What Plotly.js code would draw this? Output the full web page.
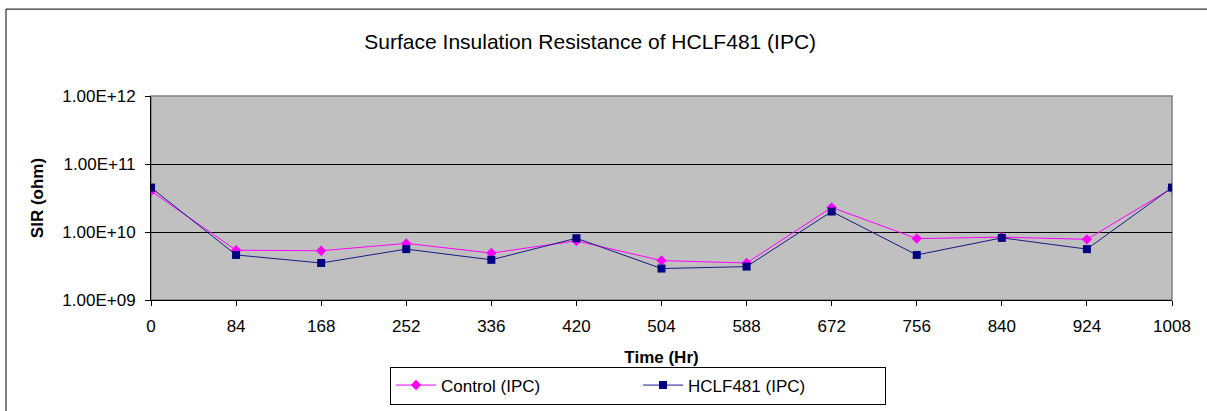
<!DOCTYPE html>
<html>
<head>
<meta charset="utf-8">
<script src="https://cdn.plot.ly/plotly-3.0.1.min.js"></script>
<style>
html,body{margin:0;padding:0;background:#fff;}
#chart{width:1207px;height:411px;}
</style>
</head>
<body>
<div id="chart"></div>
<script>
const timeHr = [0, 84, 168, 252, 336, 420, 504, 588, 672, 756, 840, 924, 1008];
const controlSIR = [4.0e10, 5.4e9, 5.3e9, 6.8e9, 4.9e9, 7.4e9, 3.8e9, 3.5e9, 2.3e10, 8.0e9, 8.4e9, 7.8e9, 4.4e10];
const hclfSIR = [4.5e10, 4.6e9, 3.5e9, 5.6e9, 3.9e9, 8.1e9, 2.9e9, 3.1e9, 2.0e10, 4.6e9, 8.2e9, 5.6e9, 4.5e10];
const yTickVals = [1e9, 1e10, 1e11, 1e12];
const yTickText = ['1.00E+09', '1.00E+10', '1.00E+11', '1.00E+12'];
const xTickVals = [0, 84, 168, 252, 336, 420, 504, 588, 672, 756, 840, 924, 1008];

const font = 'Arial, "Liberation Sans", sans-serif';

const traces = [
  {
    x: timeHr, y: controlSIR, name: 'Control (IPC)', type: 'scatter', mode: 'lines+markers',
    line: {color: '#ff00ff', width: 1},
    marker: {symbol: 'diamond', size: 8, color: '#ff00ff'}
  },
  {
    x: timeHr, y: hclfSIR, name: 'HCLF481 (IPC)', type: 'scatter', mode: 'lines+markers',
    line: {color: '#1a1a88', width: 1},
    marker: {symbol: 'square', size: 8, color: '#000080'}
  }
];

const layout = {
  width: 1207, height: 411,
  margin: {l: 151, r: 35, t: 96, b: 111, pad: 0, autoexpand: false},
  paper_bgcolor: '#ffffff',
  plot_bgcolor: '#c0c0c0',
  font: {family: font, size: 17, color: '#000'},
  title: {text: 'Surface Insulation Resistance of HCLF481 (IPC)', font: {family: font, size: 21, color: '#000'},
          x: 0.489, xanchor: 'center', y: 0.898, yanchor: 'middle', xref: 'container', yref: 'container'},
  xaxis: {
    range: [0, 1008], tickvals: xTickVals, ticktext: xTickVals.map(String),
    showgrid: false, zeroline: false, showline: true, linecolor: '#000', linewidth: 1,
    ticks: 'outside', ticklen: 5, tickcolor: '#000', tickfont: {family: font, size: 17},
    ticklabelstandoff: 6, automargin: false,
    title: {text: '<b>Time (Hr)</b>', font: {family: font, size: 17}, standoff: 18}
  },
  yaxis: {
    type: 'log', range: [9, 12], tickvals: yTickVals, ticktext: yTickText,
    showgrid: true, gridcolor: '#000', gridwidth: 1, zeroline: false,
    showline: true, linecolor: '#000', linewidth: 1,
    ticks: 'outside', ticklen: 5, tickcolor: '#000', tickfont: {family: font, size: 17},
    ticklabelstandoff: 6, automargin: false,
    title: {text: '<b>SIR (ohm)</b>', font: {family: font, size: 17}, standoff: 14}
  },
  legend: {
    orientation: 'h', xref: 'container', yref: 'container',
    x: 0.5286, xanchor: 'center', y: 0.062, yanchor: 'middle',
    bordercolor: '#000', borderwidth: 1, bgcolor: '#fff',
    font: {family: font, size: 17}, entrywidth: 192, entrywidthmode: 'pixels',
    tracegroupgap: 0, itemwidth: 40
  },
  shapes: [
    {type: 'rect', xref: 'paper', yref: 'paper', x0: 0, x1: 1, y0: 0, y1: 1,
     line: {color: '#808080', width: 1.5}, layer: 'below'},
    {type: 'rect', xref: 'paper', yref: 'paper', x0: -0.142, x1: 1.06, y0: -0.6, y1: 1.426,
     line: {color: '#000', width: 1}, layer: 'below'}
  ],
  showlegend: true
};

Plotly.newPlot('chart', traces, layout, {displayModeBar: false, staticPlot: true});
</script>
</body>
</html>
